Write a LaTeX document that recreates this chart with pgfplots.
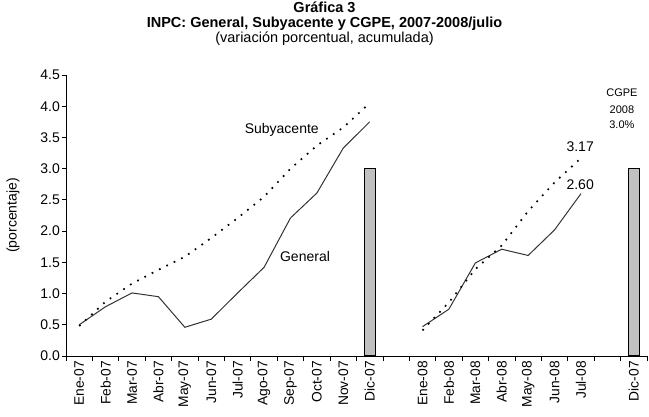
\documentclass[border=0pt]{standalone}
\usepackage{fontspec}
\setmainfont{Liberation Sans}
\usepackage{pgfplots}
\pgfplotsset{compat=1.18}
\definecolor{bargray}{RGB}{192,192,192}
\definecolor{linegray}{RGB}{51,51,51}
\newcommand{\fs}[1]{\fontsize{#1}{#1}\selectfont}
\begin{document}
\begin{tikzpicture}[x=1pt,y=1pt]
\begin{axis}[
  at={(66pt,60pt)}, anchor=south west,
  scale only axis, width=581pt, height=281pt,
  xmin=-0.5, xmax=21.5, ymin=0, ymax=4.5,
  axis x line=bottom, axis y line=left,
  axis line style={-, line width=0.8pt, black},
  tick align=outside,
  xtick={0,...,21},
  xticklabels={Ene-07,Feb-07,Mar-07,Abr-07,May-07,Jun-07,Jul-07,Ago-07,Sep-07,Oct-07,Nov-07,Dic-07,,Ene-08,Feb-08,Mar-08,Abr-08,May-08,Jun-08,Jul-08,,Dic-07},
  major x tick style={draw=none},
  minor xtick={-0.5,0.5,...,21.5},
  minor tick length=5pt, major tick length=4pt,
  tick style={black, line width=0.8pt},
  x tick label style={rotate=90, anchor=east, font=\fs{13.8}, inner sep=1pt},
  ytick={0,0.5,...,4.5},
  y tick label style={font=\fs{14}, inner sep=2pt},
  yticklabel style={/pgf/number format/.cd, fixed, fixed zerofill, precision=1, assume math mode=true},
  ylabel={(porcentaje)},
  ylabel style={font=\fs{14}, at={(axis description cs:-0.0912,0.5)}, anchor=center},
  clip=false,
]
\addplot[ybar, bar width=11pt, fill=bargray, draw=black, line width=1.2pt] coordinates {(11,3.0) (21,3.0)};
\addplot[linegray, line width=1pt] coordinates {
(0,0.50) (1,0.79) (2,1.01) (3,0.95) (4,0.46) (5,0.59) (6,1.01) (7,1.42) (8,2.21) (9,2.61) (10,3.33) (11,3.75)};
\addplot[linegray, line width=1pt] coordinates {
(13,0.47) (14,0.75) (15,1.49) (16,1.71) (17,1.61) (18,2.02) (19,2.60)};
\addplot[black, line width=1.7pt, dash pattern=on 1.7pt off 6.5pt] coordinates {
(0,0.48) (1,0.87) (2,1.16) (3,1.38) (4,1.59) (5,1.89) (6,2.21) (7,2.55) (8,3.00) (9,3.37) (10,3.66) (11,4.05)};
\addplot[black, line width=1.7pt, dash pattern=on 1.7pt off 6.5pt] coordinates {
(13,0.41) (14,0.86) (15,1.39) (16,1.77) (17,2.32) (18,2.78) (19,3.17)};
\node[font=\fs{14}] at (axis cs:7.67,3.62) {Subyacente};
\node[font=\fs{14}] at (axis cs:8.55,1.59) {General};
\node[font=\fs{14}] at (axis cs:18.97,3.35) {3.17};
\node[font=\fs{14}] at (axis cs:18.97,2.75) {2.60};
\node[font=\fs{11}] at (axis cs:20.55,4.21) {CGPE};
\node[font=\fs{11}] at (axis cs:20.55,3.95) {2008};
\node[font=\fs{11}] at (axis cs:20.55,3.70) {3.0\%};
\end{axis}
\node[anchor=base, font=\bfseries\fs{14.5}] at (324.5,403) {Gráfica 3};
\node[anchor=base, font=\bfseries\fs{14.5}] at (324.5,388) {INPC: General, Subyacente y CGPE, 2007-2008/julio};
\node[anchor=base, font=\fs{14.5}] at (324.5,373.5) {(variación porcentual, acumulada)};
\pgfresetboundingbox
\path[use as bounding box] (0,0) rectangle (649,416);
\end{tikzpicture}
\end{document}
